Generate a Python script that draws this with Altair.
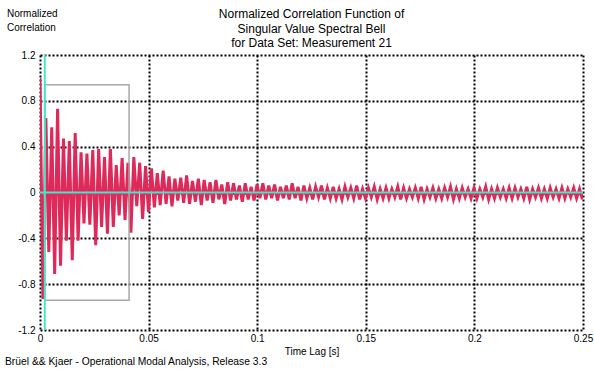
import altair as alt
import pandas as pd

# ---- data ----
SAMPLE_STEP = 0.00135  # seconds between successive extrema of the trace

peak_max = [1.00, 0.65, 0.57, 0.73, 0.47, 0.45, 0.52, 0.35, 0.34, 0.37,
            0.38, 0.31, 0.38, 0.24, 0.30, 0.26, 0.31, 0.26, 0.23, 0.21,
            0.17, 0.19, 0.14, 0.12, 0.13, 0.15, 0.10, 0.12, 0.11, 0.09,
            0.11, 0.07, 0.09, 0.08, 0.06, 0.08, 0.05, 0.07, 0.08, 0.06,
            0.07, 0.05, 0.06, 0.08, 0.05, 0.06, 0.04, 0.05, 0.06, 0.04,
            0.05, 0.03, 0.05, 0.04, 0.06, 0.03, 0.04, 0.05, 0.03, 0.04,
            0.03, 0.05, 0.04, 0.03, 0.04, 0.05, 0.03, 0.04, 0.03, 0.04,
            0.05, 0.03, 0.04, 0.03, 0.04, 0.03, 0.05, 0.03, 0.04, 0.03,
            0.04, 0.04, 0.03, 0.05, 0.03, 0.04, 0.03, 0.04, 0.03, 0.04,
            0.03, 0.04, 0.03]
peak_min = [-0.93, -0.52, -0.71, -0.64, -0.42, -0.59, -0.42, -0.27, -0.28, -0.46,
            -0.30, -0.36, -0.30, -0.20, -0.24, -0.35, -0.12, -0.23, -0.17, -0.13,
            -0.11, -0.10, -0.12, -0.07, -0.09, -0.10, -0.08, -0.11, -0.07, -0.09,
            -0.06, -0.10, -0.07, -0.06, -0.08, -0.06, -0.07, -0.05, -0.06, -0.05,
            -0.07, -0.05, -0.06, -0.05, -0.07, -0.05, -0.06, -0.04, -0.06, -0.05,
            -0.05, -0.06, -0.04, -0.05, -0.06, -0.05, -0.04, -0.06, -0.05, -0.05,
            -0.04, -0.06, -0.05, -0.04, -0.05, -0.06, -0.04, -0.05, -0.05, -0.04,
            -0.06, -0.05, -0.04, -0.05, -0.05, -0.04, -0.06, -0.05, -0.04, -0.05,
            -0.05, -0.04, -0.05, -0.06, -0.04, -0.05, -0.05, -0.04, -0.05, -0.05,
            -0.04, -0.05, -0.06]

cursor_time = [0.0022]
zero_level = [0.0]
window_t = [0.0022, 0.041]
window_v = [-0.94, 0.94]

x_ticks = [0, 0.05, 0.1, 0.15, 0.2, 0.25]
y_ticks = [-1.2, -0.8, -0.4, 0, 0.4, 0.8, 1.2]

title_text = ["Normalized Correlation Function of\nSingular Value Spectral Bell\nfor Data Set: Measurement 21"]
y_title = ["Normalized\nCorrelation"]
x_title = "Time Lag [s]"
footer = ["Brüel && Kjaer - Operational Modal Analysis, Release 3.3"]

# ---- tables ----
values = []
for a, b in zip(peak_max, peak_min):
    values.extend([a, b])
trace = pd.DataFrame({"t": [i * SAMPLE_STEP for i in range(len(values))],
                      "v": values})

FONT = "Liberation Sans"
W, H = 543, 275

xscale = alt.Scale(domain=[0, 0.25], nice=False, zero=False)
yscale = alt.Scale(domain=[-1.2, 1.2], nice=False, zero=False)

xaxis = alt.Axis(values=x_ticks, title=x_title, grid=True, ticks=False, domain=False,
                 labelExpr="format(datum.value, '~g')", labelPadding=3,
                 labelFlush=False, titleY=21, titleBaseline="middle")
yaxis = alt.Axis(values=y_ticks, title=None, grid=True, ticks=False, domain=False,
                 labelExpr="datum.value == 0 ? '0' : (datum.value < 0 ? '-' : '') + format(abs(datum.value), '.1f')",
                 labelPadding=5, labelFlush=False)

line = alt.Chart(trace).mark_line(color="#de2a5a", strokeWidth=3, clip=True).encode(
    x=alt.X("t:Q", scale=xscale, axis=xaxis),
    y=alt.Y("v:Q", scale=yscale, axis=yaxis),
)

hline = alt.Chart(pd.DataFrame({"v": zero_level})).mark_rule(
    color="#40e8c8", strokeWidth=2).encode(y=alt.Y("v:Q", scale=yscale))
vline = alt.Chart(pd.DataFrame({"t": cursor_time})).mark_rule(
    color="#40e8c8", strokeWidth=2).encode(x=alt.X("t:Q", scale=xscale))

box = alt.Chart(pd.DataFrame({"t1": [window_t[0]], "t2": [window_t[1]],
                              "v1": [window_v[0]], "v2": [window_v[1]]})).mark_rect(
    fill=None, fillOpacity=0, stroke="#a8a8a8", strokeWidth=1.5).encode(
    x=alt.X("t1:Q", scale=xscale), x2="t2:Q",
    y=alt.Y("v1:Q", scale=yscale), y2="v2:Q")

foot = alt.Chart(pd.DataFrame({"s": footer})).mark_text(
    align="left", baseline="middle", font=FONT, fontSize=10.3, color="black").encode(
    x=alt.value(-35), y=alt.value(307), text="s:N")

ytitle = alt.Chart(pd.DataFrame({"s": y_title})).mark_text(
    align="left", baseline="top", font=FONT, fontSize=10, color="black",
    lineBreak="\n", lineHeight=14).encode(
    x=alt.value(-33), y=alt.value(-46), text="s:N")

title = alt.Chart(pd.DataFrame({"s": title_text})).mark_text(
    align="center", baseline="top", font=FONT, fontSize=12, color="black",
    lineBreak="\n", lineHeight=14.5).encode(
    x=alt.value(W / 2), y=alt.value(-46), text="s:N")

chart = alt.layer(line, box, hline, vline, foot, ytitle, title).properties(
    width=W, height=H,
    padding={"left": 40, "top": 55, "right": 11, "bottom": 40},
    autosize=alt.AutoSizeParams(type="none"),
    background="white",
).configure_view(stroke=None).configure_axis(
    labelFont=FONT, labelFontSize=10, labelColor="black",
    titleFont=FONT, titleFontSize=10, titleFontWeight="normal", titleColor="black",
    gridColor="black", gridWidth=2, gridDash=[2, 2], gridOpacity=1,
)

chart.save("out.html", embed_options={"renderer": "svg", "actions": False})
